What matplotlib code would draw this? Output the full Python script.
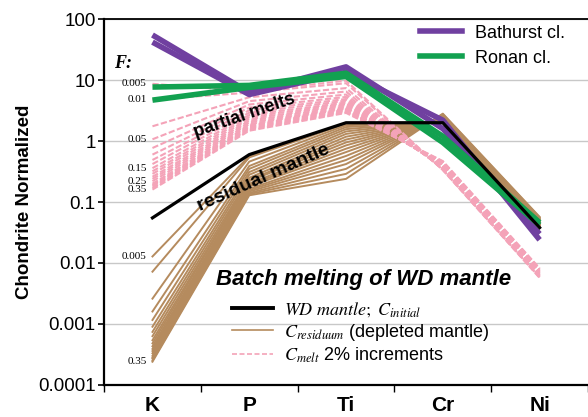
"""Trace-element plot: batch melting of the WD mantle vs Bathurst / Ronan clinopyroxene."""
import matplotlib

matplotlib.use("Agg")
import matplotlib.pyplot as plt
from matplotlib.lines import Line2D
from matplotlib.ticker import NullLocator

ELEMENTS = ["K", "P", "Ti", "Cr", "Ni"]

# chondrite-normalized values
BATHURST = [
    [55.0, 6.3, 16.5, 1.6, 0.030],
    [42.0, 5.8, 13.5, 2.2, 0.024],
]
RONAN = [
    [7.7, 8.2, 13.0, 1.2, 0.046],
    [4.7, 7.6, 11.5, 0.95, 0.042],
]
WD_MANTLE = [0.055, 0.6, 2.0, 2.0, 0.038]

# melt fraction of each model step
MELT_F = [0.005, 0.01, 0.03, 0.05, 0.07, 0.09, 0.11, 0.13, 0.15, 0.17,
          0.19, 0.21, 0.23, 0.25, 0.27, 0.29, 0.31, 0.33, 0.35]

MELT_K = [8.7, 4.8, 1.75, 1.07, 0.77, 0.60, 0.49, 0.42, 0.36, 0.32,
          0.29, 0.26, 0.24, 0.22, 0.20, 0.19, 0.18, 0.17, 0.16]
MELT_P = [6.55, 6.24, 5.24, 4.52, 3.98, 3.55, 3.20, 2.92, 2.68, 2.48,
          2.30, 2.15, 2.02, 1.90, 1.80, 1.71, 1.62, 1.55, 1.48]
MELT_TI = [9.8, 8.9, 7.4, 6.5, 5.8, 5.3, 4.9, 4.6, 4.3, 4.1,
           3.9, 3.7, 3.5, 3.4, 3.3, 3.2, 3.1, 3.0, 2.9]
MELT_CR = [0.335, 0.336, 0.342, 0.348, 0.354, 0.360, 0.367, 0.374, 0.381, 0.388,
           0.396, 0.404, 0.412, 0.421, 0.430, 0.440, 0.449, 0.460, 0.470]
MELT_NI = [0.0057, 0.0058, 0.0059, 0.0060, 0.0061, 0.0062, 0.0063, 0.0064, 0.0066, 0.0067,
           0.0068, 0.0070, 0.0071, 0.0073, 0.0074, 0.0076, 0.0078, 0.0080, 0.0082]

RES_K = [0.0128, 0.0072, 0.0026, 0.0016, 0.00116, 0.00090, 0.00074, 0.00063, 0.00054, 0.00048,
         0.00043, 0.00039, 0.00036, 0.00033, 0.00030, 0.00028, 0.00027, 0.00025, 0.00024]
RES_P = [0.57, 0.54, 0.46, 0.39, 0.35, 0.31, 0.28, 0.25, 0.23, 0.22,
         0.20, 0.19, 0.18, 0.165, 0.157, 0.149, 0.141, 0.135, 0.129]
RES_TI = [1.97, 1.93, 1.82, 1.70, 1.57, 1.44, 1.31, 1.18, 1.06, 0.95,
          0.85, 0.75, 0.66, 0.57, 0.49, 0.42, 0.35, 0.29, 0.24]
RES_CR = [2.01, 2.02, 2.05, 2.09, 2.12, 2.16, 2.20, 2.24, 2.29, 2.33,
          2.38, 2.42, 2.47, 2.53, 2.58, 2.64, 2.70, 2.76, 2.82]
RES_NI = [0.0402, 0.0403, 0.0411, 0.0418, 0.0426, 0.0433, 0.0442, 0.0450, 0.0459, 0.0468,
          0.0478, 0.0488, 0.0498, 0.0509, 0.0520, 0.0532, 0.0545, 0.0558, 0.0571]

MELT_LABELS = ["0.005", "0.01", "0.05", "0.15", "0.25", "0.35"]
RES_LABELS = ["0.005", "0.35"]

YTICKS = [1e-4, 1e-3, 1e-2, 1e-1, 1, 10, 100]
YTICK_LABELS = ["0.0001", "0.001", "0.01", "0.1", "1", "10", "100"]

PURPLE = "#7040A0"
GREEN = "#12A150"
TAN = "#B58B5E"
PINK = "#F4A3B8"
GRID = "#C8C8C8"


def configure_style() -> None:
    plt.rcParams.update(
        {
            "font.family": "Liberation Sans",
            "mathtext.fontset": "stix",
            "font.size": 13,
        }
    )


def draw_models(ax) -> None:
    x = range(len(ELEMENTS))
    res_rows = list(zip(RES_K, RES_P, RES_TI, RES_CR, RES_NI))
    melt_rows = list(zip(MELT_K, MELT_P, MELT_TI, MELT_CR, MELT_NI))
    for row in res_rows:
        ax.plot(x, row, color=TAN, lw=1.4, zorder=2)
    for row in melt_rows:
        ax.plot(x, row, color=PINK, lw=1.5, ls=(0, (3, 1.2)), zorder=3)

    serif = dict(family="Liberation Serif", fontsize=8, ha="right", va="center")
    for lab in MELT_LABELS:
        i = MELT_F.index(float(lab))
        ax.text(-0.06, MELT_K[i], lab, **serif)
    for lab in RES_LABELS:
        i = MELT_F.index(float(lab))
        ax.text(-0.06, RES_K[i], lab, **serif)
    ax.text(-0.30, 19, "F:", family="Liberation Serif", fontsize=13,
            fontweight="bold", style="italic", ha="center", va="center")


def draw_samples(ax) -> None:
    x = range(len(ELEMENTS))
    for row in BATHURST:
        ax.plot(x, row, color=PURPLE, lw=4.0, zorder=4, solid_capstyle="butt")
    for row in RONAN:
        ax.plot(x, row, color=GREEN, lw=4.0, zorder=5, solid_capstyle="butt")
    ax.plot(x, WD_MANTLE, color="black", lw=2.3, zorder=6)


def draw_axes(ax) -> None:
    ax.set_yscale("log")
    ax.set_ylim(1e-4, 100)
    ax.set_yticks(YTICKS)
    ax.set_yticklabels(YTICK_LABELS, fontsize=13.5)
    ax.yaxis.set_minor_locator(NullLocator())
    ax.tick_params(axis="y", length=4, width=1.2, pad=2)
    ax.yaxis.grid(True, color=GRID, lw=1.0)
    ax.set_axisbelow(True)

    ax.set_xlim(-0.5, len(ELEMENTS) - 0.5)
    ax.set_xticks(range(len(ELEMENTS)))
    ax.set_xticklabels(ELEMENTS, fontsize=15, fontweight="bold")
    ax.tick_params(axis="x", which="major", length=0, pad=8)
    ax.set_xticks([i - 0.5 for i in range(len(ELEMENTS) + 1)], minor=True)
    ax.tick_params(axis="x", which="minor", length=5, width=1.0)

    ax.spines["right"].set_visible(False)
    ax.spines["left"].set_linewidth(1.6)
    ax.spines["bottom"].set_linewidth(1.6)
    ax.spines["top"].set_linewidth(1.3)
    ax.set_ylabel("Chondrite Normalized", fontsize=13.5, fontweight="bold", labelpad=4)

    ax.text(0.95, 2.6, "partial melts", fontsize=13, fontweight="bold",
            rotation=19, rotation_mode="anchor", ha="center", va="center", zorder=7)
    ax.text(1.15, 0.25, "residual mantle", fontsize=14, fontweight="bold",
            rotation=24, rotation_mode="anchor", ha="center", va="center", zorder=7)


def draw_legends(ax) -> None:
    top = ax.legend(
        handles=[Line2D([], [], color=PURPLE, lw=4.0), Line2D([], [], color=GREEN, lw=4.0)],
        labels=["Bathurst cl.", "Ronan cl."],
        loc="upper left", bbox_to_anchor=(0.653, 0.985), frameon=False, fontsize=13,
        handlelength=2.3, handletextpad=0.75, labelspacing=0.45, borderpad=0, borderaxespad=0,
    )
    ax.add_artist(top)

    ax.text(0.537, 0.287, "Batch melting of WD mantle", transform=ax.transAxes,
            fontsize=16, fontweight="bold", style="italic", ha="center", va="center")
    ax.legend(
        handles=[
            Line2D([], [], color="black", lw=2.8),
            Line2D([], [], color=TAN, lw=1.2),
            Line2D([], [], color=PINK, lw=1.2, ls=(0, (3, 1.5))),
        ],
        labels=[
            r"$WD\ mantle;\ C_{initial}$",
            r"$C_{residuum}$ (depleted mantle)",
            r"$C_{melt}$ 2% increments",
        ],
        loc="upper left", bbox_to_anchor=(0.264, 0.232), frameon=False, fontsize=13,
        handlelength=2.3, handletextpad=0.6, labelspacing=0.15, borderpad=0, borderaxespad=0,
    )


def main() -> None:
    configure_style()
    fig = plt.figure(figsize=(5.88, 4.17), dpi=100)
    ax = fig.add_axes([0.177, 0.077, 0.823, 0.877])
    draw_axes(ax)
    draw_models(ax)
    draw_samples(ax)
    draw_legends(ax)
    fig.savefig("out.png", dpi=100)


if __name__ == "__main__":
    main()
